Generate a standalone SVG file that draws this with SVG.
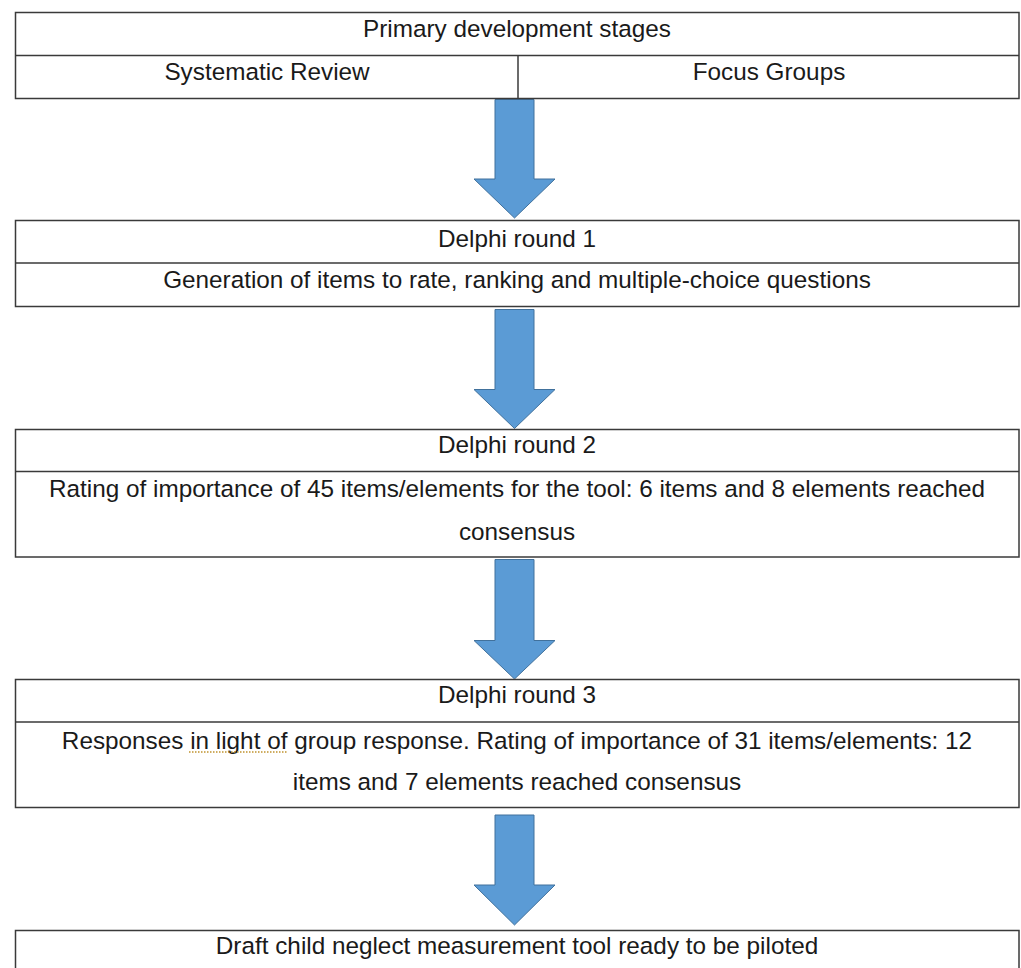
<svg xmlns="http://www.w3.org/2000/svg" width="1021" height="968" viewBox="0 0 1021 968">
<style>
.box{fill:#ffffff;stroke:#3a3a3a;stroke-width:1.5}
.div{stroke:#3a3a3a;stroke-width:1.5;fill:none}
.t{font-family:"Liberation Sans",Arial,sans-serif;font-size:24.3px;fill:#1a1a1a;text-anchor:middle}
.arrow{fill:#5B9BD5;stroke:#41719C;stroke-width:1}
.squiggle{stroke:#C0922E;stroke-width:1.5;stroke-dasharray:1.5 1.5;fill:none}
</style>
<rect width="1021" height="968" fill="#ffffff"/>
<g id="connectors">
<polygon class="arrow" points="495,99.5 534,99.5 534,179 555,179 514.5,218 474,179 495,179"/>
<polygon class="arrow" points="495,309.5 534,309.5 534,389.5 555,389.5 514.5,428.5 474,389.5 495,389.5"/>
<polygon class="arrow" points="495,559.5 534,559.5 534,640.5 555,640.5 514.5,679 474,640.5 495,640.5"/>
<polygon class="arrow" points="495,815 534,815 534,885 555,885 514.5,925 474,885 495,885"/>
</g>
<g id="primary">
<rect class="box" x="15.5" y="12.5" width="1003.5" height="86"/>
<line class="div" x1="15.5" y1="55.5" x2="1019" y2="55.5"/>
<line class="div" x1="518" y1="55.5" x2="518" y2="98.5"/>
<text class="t" x="517" y="37">Primary development stages</text>
<text class="t" x="267" y="80">Systematic Review</text>
<text class="t" x="769" y="80">Focus Groups</text>
</g>
<g id="round1">
<rect class="box" x="15.5" y="220.5" width="1003.5" height="86"/>
<line class="div" x1="15.5" y1="263" x2="1019" y2="263"/>
<text class="t" x="517" y="247">Delphi round 1</text>
<text class="t" x="517" y="288">Generation of items to rate, ranking and multiple-choice questions</text>
</g>
<g id="round2">
<rect class="box" x="15.5" y="429.5" width="1003.5" height="127.5"/>
<line class="div" x1="15.5" y1="471.5" x2="1019" y2="471.5"/>
<text class="t" x="517" y="453">Delphi round 2</text>
<text class="t" x="517" y="497">Rating of importance of 45 items/elements for the tool: 6 items and 8 elements reached</text>
<text class="t" x="517" y="540">consensus</text>
</g>
<g id="round3">
<rect class="box" x="15.5" y="679.5" width="1003.5" height="128"/>
<line class="div" x1="15.5" y1="722" x2="1019" y2="722"/>
<text class="t" x="517" y="703">Delphi round 3</text>
<text class="t" x="517" y="749">Responses in light of group response. Rating of importance of 31 items/elements: 12</text>
<line class="squiggle" x1="189" y1="752" x2="287" y2="752"/>
<text class="t" x="517" y="790">items and 7 elements reached consensus</text>
</g>
<g id="draft">
<rect class="box" x="15.5" y="930.5" width="1003.5" height="60"/>
<text class="t" x="517" y="954">Draft child neglect measurement tool ready to be piloted</text>
</g>
</svg>
